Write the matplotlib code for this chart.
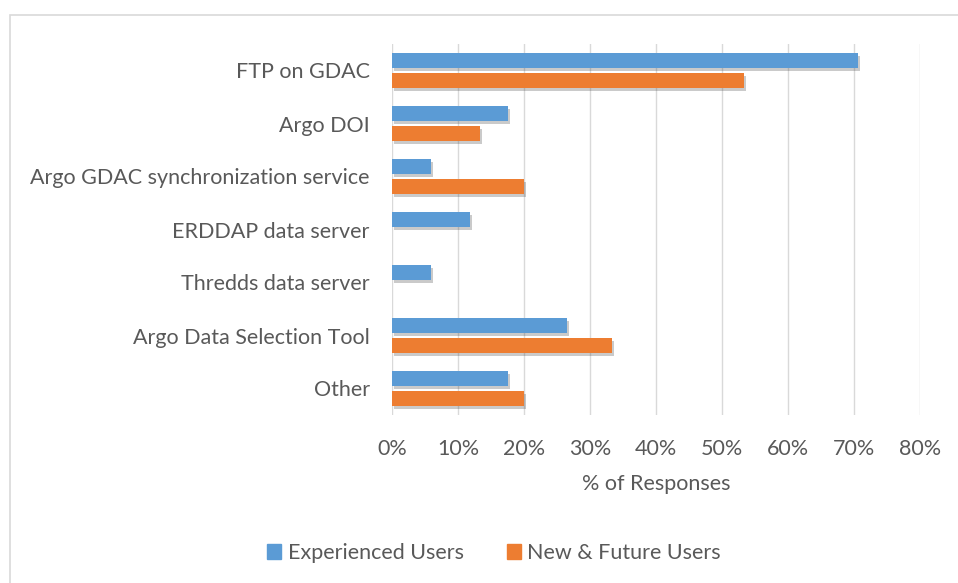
import matplotlib.pyplot as plt
import matplotlib.patheffects as pe
from matplotlib.patches import Rectangle, Patch
from matplotlib.ticker import FuncFormatter
import numpy as np

plt.rcParams['font.family'] = ['Lato', 'DejaVu Sans']

# 数据
categories = ['FTP on GDAC', 'Argo DOI', 'Argo GDAC synchronization service',
              'ERDDAP data server', 'Thredds data server',
              'Argo Data Selection Tool', 'Other']
experienced = [70.6, 17.6, 5.9, 11.8, 5.9, 26.5, 17.6]
new_future = [53.3, 13.3, 20.0, 0.0, 0.0, 33.3, 20.0]
x_ticks = [0, 10, 20, 30, 40, 50, 60, 70, 80]

blue = '#5B9BD5'
orange = '#ED7D31'
text_col = '#595959'
fs = 15.5

fig = plt.figure(figsize=(9.58, 5.83), dpi=100)
ax = fig.add_axes([392 / 958, 1 - 415 / 583, (920 - 392) / 958, (415 - 44) / 583])

# 外框
fig.patches.append(Rectangle((10 / 958, -0.1), 1.2, 1 - 15 / 583 + 0.1,
                             transform=fig.transFigure, fill=False,
                             edgecolor='#D9D9D9', linewidth=1.2))

y = np.arange(len(categories))
shadow = [pe.SimplePatchShadow(offset=(1.5, -2), shadow_rgbFace='#505050', alpha=0.3), pe.Normal()]
b1 = ax.barh(y - 0.19, experienced, height=0.29, color=blue, zorder=3)
b2 = ax.barh(y + 0.19, new_future, height=0.29, color=orange, zorder=3)
for bar in list(b1) + list(b2):
    if bar.get_width() > 0:
        bar.set_path_effects(shadow)

ax.set_ylim(len(categories) - 0.5, -0.5)
ax.set_xlim(0, 80)
ax.set_xticks(x_ticks)
ax.xaxis.set_major_formatter(FuncFormatter(lambda v, p: f'{v:.0f}%'))
ax.set_yticks(y)
ax.set_yticklabels(categories)
ax.tick_params(axis='both', length=0, labelsize=fs, colors=text_col)
ax.tick_params(axis='y', pad=16)
ax.tick_params(axis='x', pad=17)
ax.grid(axis='x', color='#D9D9D9', linewidth=1, zorder=0)
for s in ax.spines.values():
    s.set_visible(False)

ax.set_xlabel('% of Responses', fontsize=fs, color=text_col, labelpad=11)

handles = [Patch(color=blue, label='Experienced Users'),
           Patch(color=orange, label='New & Future Users')]
fig.legend(handles=handles, loc='center', bbox_to_anchor=(494 / 958, 1 - 553 / 583),
           ncol=2, frameon=False, fontsize=fs, labelcolor=text_col,
           handlelength=0.65, handleheight=0.65, handletextpad=0.3, columnspacing=2.0)

fig.savefig('out.png', dpi=100)
